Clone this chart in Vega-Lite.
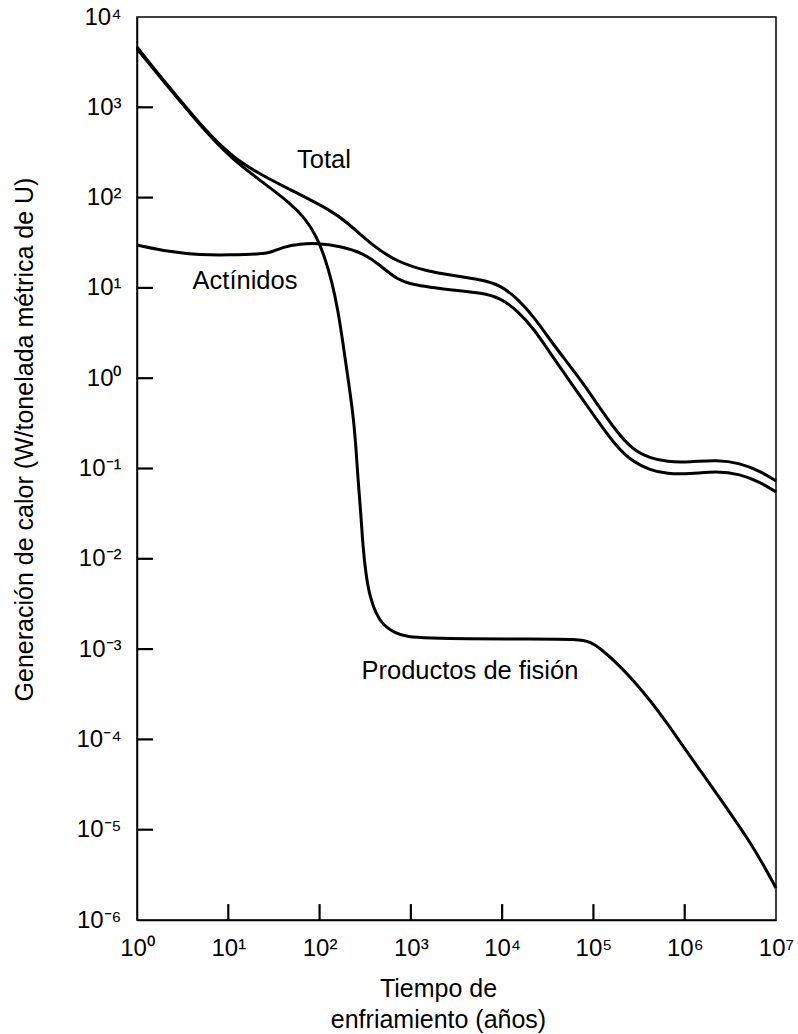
{
  "$schema": "https://vega.github.io/schema/vega-lite/v6.json",
  "width": 639,
  "height": 903,
  "autosize": {"type": "none"},
  "padding": {"left": 137, "top": 17, "right": 22, "bottom": 114},
  "background": "white",
  "config": {
    "view": {"stroke": "#000", "strokeWidth": 1.5},
    "font": "Liberation Sans"
  },
  "datasets": {
    "curves": [
      {"series": "Productos de fisión", "t": 1, "v": 4426},
      {"series": "Productos de fisión", "t": 1.786, "v": 2168},
      {"series": "Productos de fisión", "t": 2.958, "v": 1175},
      {"series": "Productos de fisión", "t": 5.559, "v": 547.0},
      {"series": "Productos de fisión", "t": 11.25, "v": 260.6},
      {"series": "Productos de fisión", "t": 25.23, "v": 141.6},
      {"series": "Productos de fisión", "t": 47.42, "v": 87.10},
      {"series": "Productos de fisión", "t": 69.18, "v": 59.43},
      {"series": "Productos de fisión", "t": 93.76, "v": 36.64},
      {"series": "Productos de fisión", "t": 114.6, "v": 21.43},
      {"series": "Productos de fisión", "t": 136.8, "v": 11.61},
      {"series": "Productos de fisión", "t": 158.9, "v": 5.689},
      {"series": "Productos de fisión", "t": 180.3, "v": 2.455},
      {"series": "Productos de fisión", "t": 204.6, "v": 1.005},
      {"series": "Productos de fisión", "t": 232.3, "v": 0.4121},
      {"series": "Productos de fisión", "t": 250.6, "v": 0.1730},
      {"series": "Productos de fisión", "t": 263.6, "v": 0.07464},
      {"series": "Productos de fisión", "t": 283.8, "v": 0.03133},
      {"series": "Productos de fisión", "t": 298.5, "v": 0.01352},
      {"series": "Productos de fisión", "t": 322.1, "v": 0.006622},
      {"series": "Productos de fisión", "t": 356.5, "v": 0.003776},
      {"series": "Productos de fisión", "t": 415.0, "v": 0.002449},
      {"series": "Productos de fisión", "t": 494.3, "v": 0.001849},
      {"series": "Productos de fisión", "t": 669.9, "v": 0.001507},
      {"series": "Productos de fisión", "t": 905.7, "v": 0.001361},
      {"series": "Productos de fisión", "t": 1618, "v": 0.001327},
      {"series": "Productos de fisión", "t": 3724, "v": 0.001294},
      {"series": "Productos de fisión", "t": 20137, "v": 0.001294},
      {"series": "Productos de fisión", "t": 71121, "v": 0.001294},
      {"series": "Productos de fisión", "t": 91622, "v": 0.001199},
      {"series": "Productos de fisión", "t": 117761, "v": 0.001028},
      {"series": "Productos de fisión", "t": 180717, "v": 0.0007015},
      {"series": "Productos de fisión", "t": 271019, "v": 0.0004550},
      {"series": "Productos de fisión", "t": 415911, "v": 0.0002729},
      {"series": "Productos de fisión", "t": 638263, "v": 0.0001521},
      {"series": "Productos de fisión", "t": 954993, "v": 0.00008453},
      {"series": "Productos de fisión", "t": 1465548, "v": 0.00004581},
      {"series": "Productos de fisión", "t": 2254239, "v": 0.00002483},
      {"series": "Productos de fisión", "t": 3372873, "v": 0.00001384},
      {"series": "Productos de fisión", "t": 5176068, "v": 0.000007311},
      {"series": "Productos de fisión", "t": 7194490, "v": 0.000004169},
      {"series": "Productos de fisión", "t": 10000000, "v": 0.000002259},

      {"series": "Total", "t": 1, "v": 4656},
      {"series": "Total", "t": 1.786, "v": 2223},
      {"series": "Total", "t": 2.958, "v": 1205},
      {"series": "Total", "t": 5.559, "v": 561.0},
      {"series": "Total", "t": 11.25, "v": 274.8},
      {"series": "Total", "t": 25.23, "v": 169.0},
      {"series": "Total", "t": 56.52, "v": 112.5},
      {"series": "Total", "t": 130.0, "v": 72.94},
      {"series": "Total", "t": 199.5, "v": 53.70},
      {"series": "Total", "t": 384.6, "v": 29.11},
      {"series": "Total", "t": 704.7, "v": 19.36},
      {"series": "Total", "t": 1618, "v": 15.00},
      {"series": "Total", "t": 2679, "v": 13.90},
      {"series": "Total", "t": 6166, "v": 12.25},
      {"series": "Total", "t": 9462, "v": 10.76},
      {"series": "Total", "t": 14521, "v": 7.727},
      {"series": "Total", "t": 22856, "v": 4.645},
      {"series": "Total", "t": 33420, "v": 2.649},
      {"series": "Total", "t": 51286, "v": 1.510},
      {"series": "Total", "t": 76736, "v": 0.8851},
      {"series": "Total", "t": 117761, "v": 0.4677},
      {"series": "Total", "t": 180717, "v": 0.2535},
      {"series": "Total", "t": 271019, "v": 0.1603},
      {"series": "Total", "t": 415911, "v": 0.1306},
      {"series": "Total", "t": 638263, "v": 0.1180},
      {"series": "Total", "t": 1140250, "v": 0.1180},
      {"series": "Total", "t": 2254239, "v": 0.1242},
      {"series": "Total", "t": 4027170, "v": 0.1151},
      {"series": "Total", "t": 6668068, "v": 0.09376},
      {"series": "Total", "t": 10000000, "v": 0.07278},

      {"series": "Actínidos", "t": 1, "v": 29.85},
      {"series": "Actínidos", "t": 2.296, "v": 25.00},
      {"series": "Actínidos", "t": 4.898, "v": 23.12},
      {"series": "Actínidos", "t": 10.44, "v": 23.12},
      {"series": "Actínidos", "t": 23.99, "v": 23.73},
      {"series": "Actínidos", "t": 30.13, "v": 25.00},
      {"series": "Actínidos", "t": 39.72, "v": 28.38},
      {"series": "Actínidos", "t": 60.95, "v": 30.62},
      {"series": "Actínidos", "t": 93.76, "v": 31.41},
      {"series": "Actínidos", "t": 167.1, "v": 29.11},
      {"series": "Actínidos", "t": 298.5, "v": 24.38},
      {"series": "Actínidos", "t": 459.2, "v": 17.95},
      {"series": "Actínidos", "t": 704.7, "v": 12.25},
      {"series": "Actínidos", "t": 1109, "v": 10.76},
      {"series": "Actínidos", "t": 1618, "v": 10.23},
      {"series": "Actínidos", "t": 2679, "v": 9.484},
      {"series": "Actínidos", "t": 6166, "v": 8.790},
      {"series": "Actínidos", "t": 9462, "v": 7.727},
      {"series": "Actínidos", "t": 14521, "v": 5.689},
      {"series": "Actínidos", "t": 22856, "v": 3.420},
      {"series": "Actínidos", "t": 33420, "v": 1.901},
      {"series": "Actínidos", "t": 51286, "v": 1.030},
      {"series": "Actínidos", "t": 76736, "v": 0.5741},
      {"series": "Actínidos", "t": 117761, "v": 0.3112},
      {"series": "Actínidos", "t": 180717, "v": 0.1730},
      {"series": "Actínidos", "t": 271019, "v": 0.1180},
      {"series": "Actínidos", "t": 415911, "v": 0.09616},
      {"series": "Actínidos", "t": 638263, "v": 0.08690},
      {"series": "Actínidos", "t": 1140250, "v": 0.08690},
      {"series": "Actínidos", "t": 2254239, "v": 0.09376},
      {"series": "Actínidos", "t": 4027170, "v": 0.08690},
      {"series": "Actínidos", "t": 6668068, "v": 0.07087},
      {"series": "Actínidos", "t": 10000000, "v": 0.05495}
    ],
    "labels": [
      {"label": "Total", "t": 111.7, "v": 212.8},
      {"label": "Actínidos", "t": 15.24, "v": 9.73},
      {"label": "Productos de fisión", "t": 4436, "v": 0.000467}
    ],
    "xticks": [
      {"t": 10}, {"t": 100}, {"t": 1000}, {"t": 10000}, {"t": 100000}, {"t": 1000000}
    ],
    "yticks": [
      {"v": 0.00001}, {"v": 0.0001}, {"v": 0.001}, {"v": 0.01}, {"v": 0.1}, {"v": 1}, {"v": 10}, {"v": 100}, {"v": 1000}
    ]
  },
  "layer": [
    {
      "data": {"name": "curves"},
      "mark": {"type": "line", "interpolate": "basis", "strokeWidth": 3, "color": "#000"},
      "encoding": {
        "x": {
          "field": "t", "type": "quantitative",
          "scale": {"type": "log", "domain": [1, 10000000], "nice": false},
          "axis": {
            "values": [1, 10, 100, 1000, 10000, 100000, 1000000, 10000000],
            "grid": false,
            "domainColor": "#000", "domainWidth": 1.5,
            "tickColor": "#000", "tickWidth": 1.5, "tickSize": -15, "tickOpacity": 0,
            "labelFont": "Liberation Sans", "labelFontSize": 24, "labelColor": "#000",
            "labelBaseline": "alphabetic", "labelPadding": 50,
            "labelFlush": false, "labelOverlap": false, "labelBound": false,
            "labelExpr": "'10' + (datum.value < 1 ? '⁻' : '') + substring('⁰¹²³⁴⁵⁶⁷⁸⁹', abs(round(log(datum.value)/LN10)), abs(round(log(datum.value)/LN10)) + 1)",
            "title": ["Tiempo de", "enfriamiento (años)"],
            "titleFont": "Liberation Sans", "titleFontSize": 25, "titleFontWeight": "normal", "titleColor": "#000",
            "titleAlign": "center", "titleBaseline": "alphabetic", "titleLineHeight": 31,
            "titleX": 301, "titleY": 76
          }
        },
        "y": {
          "field": "v", "type": "quantitative",
          "scale": {"type": "log", "domain": [0.000001, 10000], "nice": false},
          "axis": {
            "values": [0.000001, 0.00001, 0.0001, 0.001, 0.01, 0.1, 1, 10, 100, 1000, 10000],
            "grid": false,
            "domainColor": "#000", "domainWidth": 1.5,
            "tickColor": "#000", "tickWidth": 1.5, "tickSize": -15, "tickOpacity": 0,
            "labelFont": "Liberation Sans", "labelFontSize": 24, "labelColor": "#000",
            "labelBaseline": "middle", "labelPadding": 31,
            "labelFlush": false, "labelOverlap": false, "labelBound": false,
            "labelExpr": "'10' + (datum.value < 1 ? '⁻' : '') + substring('⁰¹²³⁴⁵⁶⁷⁸⁹', abs(round(log(datum.value)/LN10)), abs(round(log(datum.value)/LN10)) + 1)",
            "title": "Generación de calor (W/tonelada métrica de U)",
            "titleFont": "Liberation Sans", "titleFontSize": 25, "titleFontWeight": "normal", "titleColor": "#000",
            "titleAngle": -90, "titleAlign": "center", "titleBaseline": "middle",
            "titleX": -113, "titleY": 422
          }
        },
        "detail": {"field": "series"}
      }
    },
    {
      "data": {"name": "xticks"},
      "mark": {"type": "rule", "strokeWidth": 2.2, "color": "#000"},
      "encoding": {
        "x": {"field": "t", "type": "quantitative"},
        "y": {"datum": 0.000001},
        "y2": {"datum": 0.0000015}
      }
    },
    {
      "data": {"name": "yticks"},
      "mark": {"type": "rule", "strokeWidth": 2.2, "color": "#000"},
      "encoding": {
        "y": {"field": "v", "type": "quantitative"},
        "x": {"datum": 1},
        "x2": {"datum": 1.5}
      }
    },
    {
      "data": {"name": "labels"},
      "mark": {"type": "text", "font": "Liberation Sans", "fontSize": 25.5, "align": "center", "baseline": "alphabetic", "color": "#000"},
      "encoding": {
        "x": {"field": "t", "type": "quantitative"},
        "y": {"field": "v", "type": "quantitative"},
        "text": {"field": "label"}
      }
    }
  ]
}
